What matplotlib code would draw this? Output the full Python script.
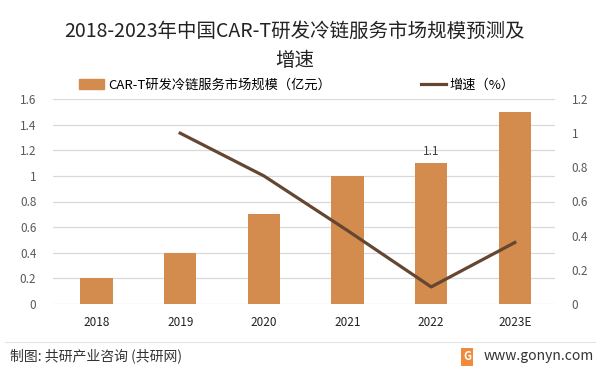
import matplotlib.pyplot as plt
from matplotlib.lines import Line2D
import numpy as np

plt.rcParams['font.family'] = ['Noto Sans CJK SC', 'DejaVu Sans']

years = ['2018', '2019', '2020', '2021', '2022', '2023E']
scale = [0.2, 0.4, 0.7, 1.0, 1.1, 1.5]
growth = [None, 1.0, 0.75, 0.43, 0.1, 0.36]
left_ticks = [0, 0.2, 0.4, 0.6, 0.8, 1, 1.2, 1.4, 1.6]
right_ticks = [0, 0.2, 0.4, 0.6, 0.8, 1, 1.2]

bar_color = '#D48B4E'
line_color = '#654630'
tick_color = '#595959'

fig = plt.figure(figsize=(6.03, 3.74), dpi=100)
ax = fig.add_axes([53/603, 1-304/374, 502/603, 205/374])
x = np.arange(len(years))
ax.bar(x, scale, width=0.39, color=bar_color, zorder=2)
ax.set_ylim(0, 1.6)
ax.set_xlim(-0.52, 5.48)
ax.set_yticks(left_ticks)
ax.set_yticklabels([f'{t:g}' for t in left_ticks])
ax.set_xticks(x)
ax.set_xticklabels(years)
ax.grid(axis='y', color='#d9d9d9', linewidth=0.9, zorder=0)
ax.set_axisbelow(True)
for s in ax.spines.values():
    s.set_visible(False)
ax.tick_params(axis='both', length=0, labelsize=8.5, colors=tick_color)
ax.tick_params(axis='x', pad=9, labelcolor='#222222')
ax.tick_params(axis='y', pad=12)
ax.annotate('1.1', (x[4], scale[4]), xytext=(0, 4), textcoords='offset points',
            ha='center', va='bottom', fontsize=8.5, color='#404040')

ax2 = ax.twinx()
gx = [i for i, g in enumerate(growth) if g is not None]
gy = [g for g in growth if g is not None]
ax2.plot(gx, gy, color=line_color, linewidth=2.3, zorder=3)
ax2.set_ylim(0, 1.2)
ax2.set_yticks(right_ticks)
ax2.set_yticklabels([f'{t:g}' for t in right_ticks])
for s in ax2.spines.values():
    s.set_visible(False)
ax2.tick_params(axis='y', length=0, labelsize=8.5, colors=tick_color, pad=12)

fig.text(295/603, 1-31/374, '2018-2023年中国CAR-T研发冷链服务市场规模预测及', ha='center', va='center',
         fontsize=14, color='#222222')
fig.text(295/603, 1-61/374, '增速', ha='center', va='center', fontsize=14, color='#222222')

handles = [plt.Rectangle((0, 0), 1, 1, color=bar_color),
           Line2D([0], [0], color=line_color, linewidth=2.3)]
fig.legend(handles, ['CAR-T研发冷链服务市场规模（亿元）', '增速（%）'], ncol=2,
           loc='center', bbox_to_anchor=(297/603, 1-85/374), frameon=False, fontsize=9.5,
           columnspacing=6.8, handlelength=1.9, handletextpad=0.3)

fig.add_artist(Line2D([5/603, 595/603], [1-342/374, 1-342/374], color='#e3e3e3', linewidth=0.8))
fig.text(10/603, 1-356/374, '制图: 共研产业咨询 (共研网)', ha='left', va='center', fontsize=10, color='#333333')
fig.text(467/603, 1-357/374, 'G', ha='center', va='center', fontsize=8, color='white', fontweight='bold',
         bbox=dict(boxstyle='square,pad=0.2', fc='#F08A3C', ec='none'))
fig.text(594/603, 1-356/374, 'www.gonyn.com', ha='right', va='center', fontsize=10, color='#333333')

fig.savefig('out.png', dpi=100)
